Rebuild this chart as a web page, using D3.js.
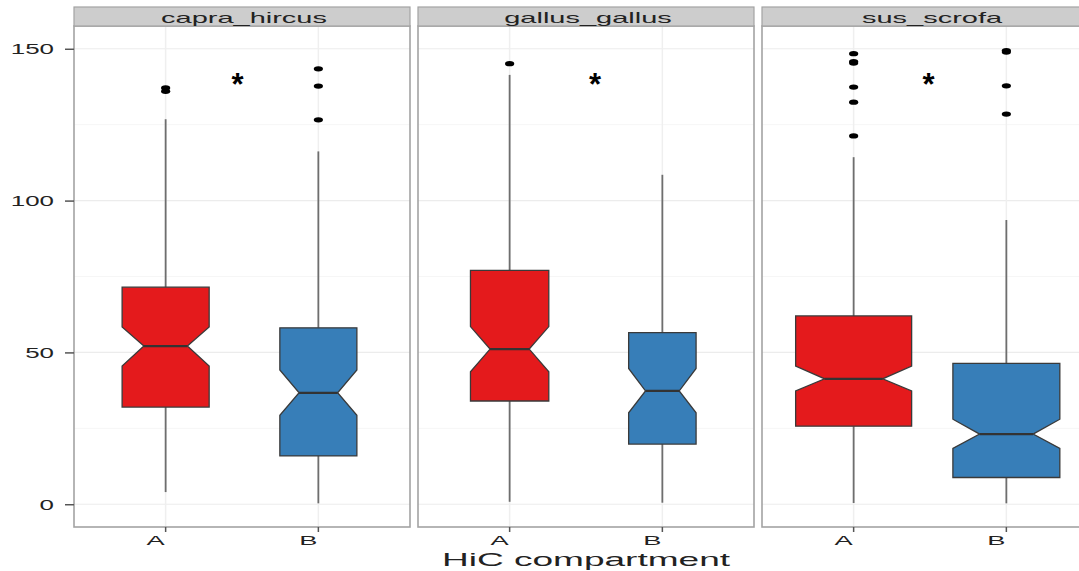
<!DOCTYPE html>
<html>
<head>
<meta charset="utf-8">
<script src="https://cdn.jsdelivr.net/npm/d3@7"></script>
<style>
  body { margin: 0; background: #fff; }
  svg { display: block; font-family: "Liberation Sans", Arial, sans-serif; }
</style>
</head>
<body>
<svg id="chart" width="1079" height="571"></svg>
<script>
// values, per species: [A, B]
const species = ["capra_hircus", "gallus_gallus", "sus_scrofa"];
const compartments = ["A", "B"];
const lowerWhisker = [[4.0, 0.3], [0.8, 0.5], [0.4, 0.3]];
const q1 = [[32.0, 15.9], [34.0, 19.8], [25.7, 8.8]];
const median = [[52.1, 36.7], [51.1, 37.3], [41.3, 23.1]];
const q3 = [[71.5, 58.1], [77.0, 56.5], [62.0, 46.4]];
const upperWhisker = [[126.8, 116.2], [141.4, 108.5], [114.3, 93.6]];
const notchLow = [[45.5, 29.3], [43.6, 30.1], [37.3, 18.4]];
const notchHigh = [[58.4, 44.2], [58.5, 44.7], [45.5, 28.0]];
// relative group sizes (varwidth boxes)
const groupSize = [[563, 441], [456, 338], [1000, 850]];
const outliers = [
  [[137.1, 136.0], [143.4, 137.7, 126.6]],
  [[145.1], []],
  [[148.4, 145.8, 145.3, 137.4, 132.4, 121.3], [149.4, 148.9, 137.8, 128.5]]
];
// significance marks: label, x (A = 1, B = 2), y value
const sigMarks = ["*", "*", "*"];
const sigX = [1.47, 1.56, 1.49];
const sigValue = 139;
const yTicks = [0, 50, 100, 150];
const yMinor = [25, 75, 125];
const fillColors = ["#E41A1C", "#377EB8"];

const svg = d3.select("#chart");
const panelLeft = 74, panelW = 336, panelGap = 8;
const panelTop = 26, panelBottom = 527, stripTop = 7;
const maxBoxW = 116;
const textSX = 1.95; // the reference is stretched sideways

const y = d3.scaleLinear().domain([-7.5, 157.5]).range([panelBottom, panelTop]);
const xNum = d3.scaleLinear().domain([0.4, 2.6]).range([0, panelW]);
const maxN = d3.max(groupSize.flat());

function wideText(parent, x, yy, str, size, anchor, sx) {
  return parent.append("text")
    .attr("transform", `translate(${x},${yy}) scale(${sx || textSX},1)`)
    .attr("text-anchor", anchor || "middle")
    .attr("font-size", size)
    .attr("fill", "#222")
    .text(str);
}

species.forEach((sp, i) => {
  const x0 = panelLeft + i * (panelW + panelGap);
  const g = svg.append("g").attr("transform", `translate(${x0},0)`);
  const x = d3.scalePoint().domain(compartments).range([0, panelW]).padding(0.6);

  // grid
  g.selectAll("line.minor").data(yMinor).join("line")
    .attr("x1", 0).attr("x2", panelW)
    .attr("y1", d => y(d)).attr("y2", d => y(d))
    .attr("stroke", "#f6f6f6").attr("stroke-width", 1);
  g.selectAll("line.major").data(yTicks).join("line")
    .attr("x1", 0).attr("x2", panelW)
    .attr("y1", d => y(d)).attr("y2", d => y(d))
    .attr("stroke", "#ececec").attr("stroke-width", 1.2);
  g.selectAll("line.vgrid").data(compartments).join("line")
    .attr("x1", d => x(d)).attr("x2", d => x(d))
    .attr("y1", panelTop).attr("y2", panelBottom)
    .attr("stroke", "#efefef").attr("stroke-width", 1.5);

  compartments.forEach((c, j) => {
    const cx = x(c);
    const w = maxBoxW * Math.sqrt(groupSize[i][j] / maxN);
    const xmin = cx - w / 2, xmax = cx + w / 2, ind = w / 4;

    // whiskers
    g.append("line").attr("x1", cx).attr("x2", cx)
      .attr("y1", y(q3[i][j])).attr("y2", y(upperWhisker[i][j]))
      .attr("stroke", "#6e6e6e").attr("stroke-width", 1.8);
    g.append("line").attr("x1", cx).attr("x2", cx)
      .attr("y1", y(q1[i][j])).attr("y2", y(lowerWhisker[i][j]))
      .attr("stroke", "#6e6e6e").attr("stroke-width", 1.8);

    const pts = [
      [xmin, y(q1[i][j])], [xmin, y(notchLow[i][j])], [xmin + ind, y(median[i][j])],
      [xmin, y(notchHigh[i][j])], [xmin, y(q3[i][j])], [xmax, y(q3[i][j])],
      [xmax, y(notchHigh[i][j])], [xmax - ind, y(median[i][j])], [xmax, y(notchLow[i][j])],
      [xmax, y(q1[i][j])]
    ];
    g.append("path")
      .attr("d", d3.line()(pts) + "Z")
      .attr("fill", fillColors[j])
      .attr("stroke", "#3a3a3a").attr("stroke-width", 1.3);
    g.append("line")
      .attr("x1", xmin + ind).attr("x2", xmax - ind)
      .attr("y1", y(median[i][j])).attr("y2", y(median[i][j]))
      .attr("stroke", "#333").attr("stroke-width", 2.2);

    g.selectAll(null).data(outliers[i][j]).join("ellipse")
      .attr("cx", cx).attr("cy", d => y(d))
      .attr("rx", 4.6).attr("ry", 2.6)
      .attr("fill", "#000");
  });

  // significance mark
  g.append("text")
    .attr("x", xNum(sigX[i])).attr("y", y(sigValue) + 13)
    .attr("text-anchor", "middle")
    .attr("font-size", 31).attr("font-weight", "bold")
    .attr("fill", "#000")
    .text(sigMarks[i]);

  // panel border
  g.append("rect")
    .attr("x", 0).attr("y", panelTop).attr("width", panelW).attr("height", panelBottom - panelTop)
    .attr("fill", "none").attr("stroke", "#a3a3a3").attr("stroke-width", 1.6);

  // strip
  g.append("rect")
    .attr("x", 0).attr("y", stripTop).attr("width", panelW).attr("height", panelTop - stripTop)
    .attr("fill", "#cdcdcd").attr("stroke", "#a3a3a3").attr("stroke-width", 1.2);
  wideText(g, panelW / 2 + 2, 22.5, sp, 14.5, "middle", 2.0);

  // x ticks
  compartments.forEach(c => {
    g.append("line").attr("x1", x(c)).attr("x2", x(c))
      .attr("y1", panelBottom).attr("y2", panelBottom + 5)
      .attr("stroke", "#555").attr("stroke-width", 1.5);
    wideText(g, x(c) - 10, 545, c, 13, "middle", 2.1);
  });
});

// y axis
const ya = svg.append("g").attr("transform", `translate(${panelLeft},0)`)
  .call(d3.axisLeft(y).tickValues(yTicks).tickSize(9).tickPadding(0));
ya.select(".domain").remove();
ya.selectAll(".tick line").attr("stroke", "#555").attr("stroke-width", 1.5);
ya.selectAll(".tick text")
  .attr("x", null).attr("dy", "0.36em")
  .attr("transform", `translate(-20,0) scale(1.85,1)`)
  .attr("font-size", 14).attr("fill", "#222")
  .attr("font-family", "Liberation Sans, Arial, sans-serif");

// x title
wideText(svg, 586, 566, "HiC compartment", 19, "middle", 1.95);
</script>
</body>
</html>
